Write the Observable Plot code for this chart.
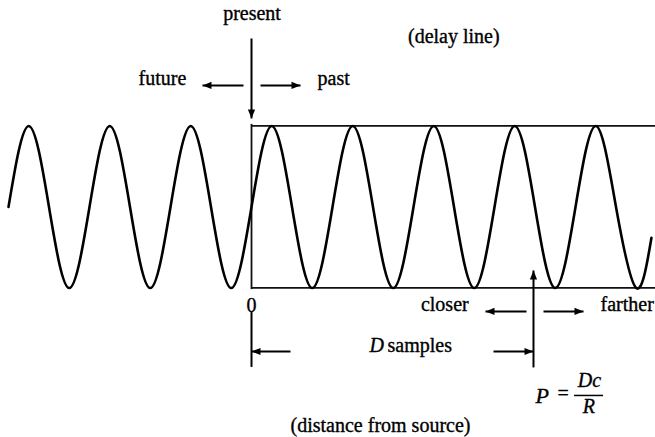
<!DOCTYPE html>
<html>
<head>
<meta charset="utf-8">
<script src="https://cdn.jsdelivr.net/npm/d3@7"></script>
<script src="https://cdn.jsdelivr.net/npm/@observablehq/plot@0.6"></script>
<style>
  html, body { margin: 0; padding: 0; background: #fff; }
  #chart svg { display: block; }
</style>
</head>
<body>
<div id="chart"></div>
<script>
// ---- Wave: x in samples (0 = present), y = amplitude ----
const waveX = [-24, -22, -20, -18, -16, -14, -12, -10, -8, -6, -4, -2,
               0, 2, 4, 6, 8, 10, 12, 14, 16, 18, 20, 22, 24, 26, 28, 30, 32, 34, 36, 38, 39.5];
const waveY = [0, 1, 0, -1, 0, 1, 0, -1, 0, 1, 0, -1,
               0, 1, 0, -1, 0, 1, 0, -1, 0, 1, 0, -1, 0, 1, 0, -1, 0, 1, 0, -1, -0.38];

// delay line extent and listening position
const delayStart = 0;
const delayEnd = 40;
const D = 27.85;

// ---- Text labels (data-unit anchors) ----
const labelText  = ["present", "future", "past", "(delay line)", "0", "closer", "farther",
                    "samples", "(distance from source)", "="];
const labelX     = [0.05, -8.8, 6.52, 19.98, 0, 21.45, 34.47, 13.43, 12.74, 30.77];
const labelY     = [2.388, 1.579, 1.579, 2.098, -1.223, -1.211, -1.211, -1.717, -2.693, -2.298];
const labelAlign = ["middle", "middle", "start", "middle", "middle", "end", "start", "start", "middle", "middle"];

const italicText  = ["D", "P", "Dc", "R"];
const italicX     = [11.66, 28.05, 33.38, 33.33];
const italicY     = [-1.717, -2.335, -2.149, -2.470];
const italicAlign = ["start", "start", "middle", "middle"];
const italicSize  = [20, 22, 20, 20];

// ---- Arrows: from (x1,y1) to head at (x2,y2) ----
const arrowX1 = [0, -0.79, 0.89, 27.16, 28.84, 3.85, 23.90, D];
const arrowY1 = [2.080, 1.5, 1.5, -1.290, -1.290, -1.784, -1.784, -1.981];
const arrowX2 = [0, -4.84, 4.84, 23.11, 32.79, 0, D, D];
const arrowY2 = [1.093, 1.5, 1.5, -1.290, -1.290, -1.784, -1.784, -0.784];

// fraction bar of P = Dc / R
const barX1 = 31.90, barX2 = 34.77, barY = -2.327;

const labels = labelText.map((t, i) => ({t, x: labelX[i], y: labelY[i], a: labelAlign[i], s: 20}));
const italics = italicText.map((t, i) => ({t, x: italicX[i], y: italicY[i], a: italicAlign[i], s: italicSize[i]}));
const arrows = arrowX1.map((x1, i) => {
  const x2 = arrowX2[i], y1 = arrowY1[i], y2 = arrowY2[i];
  const rot = x2 > x1 ? 90 : x2 < x1 ? 270 : (y2 > y1 ? 0 : 180);
  return {x1, y1, x2, y2, rot};
});
const wave = waveX.map((x, i) => ({x, y: waveY[i]}));

// filled arrowhead symbol, tip at origin pointing up
const arrowHead = {
  draw(ctx) {
    ctx.moveTo(0, 0);
    ctx.lineTo(3.6, 9);
    ctx.lineTo(-3.6, 9);
    ctx.closePath();
  }
};

const font = "Liberation Serif";

function textMarks(rows, extra) {
  const out = [];
  for (const a of ["start", "middle", "end"]) {
    for (const s of [20, 22]) {
      const sub = rows.filter(d => d.a === a && d.s === s);
      if (!sub.length) continue;
      out.push(Plot.text(sub, {
        x: "x", y: "y", text: "t", textAnchor: a, fontSize: s, fill: "#000",
        stroke: "#000", strokeWidth: 0.35, fontFamily: font, ...extra
      }));
    }
  }
  return out;
}

const chart = Plot.plot({
  width: 655,
  height: 437,
  margin: 0,
  style: {fontFamily: font, fontSize: "20px", background: "#fff", color: "#000"},
  x: {domain: [-24.79, 39.90], axis: null},
  y: {domain: [-2.846, 2.549], axis: null},
  marks: [
    // delay line box
    Plot.ruleY([1, -1], {x1: delayStart, x2: delayEnd, stroke: "#111", strokeWidth: 1.8}),
    Plot.ruleX([delayStart], {y1: -1.02, y2: 1.02, stroke: "#111", strokeWidth: 1.8}),
    // source-distance zero tick
    Plot.ruleX([delayStart], {y1: -1.302, y2: -1.981, stroke: "#000", strokeWidth: 2}),
    // the wave
    Plot.line(wave, {x: "x", y: "y", curve: "natural", stroke: "#000", strokeWidth: 2.6}),
    // arrows
    Plot.link(arrows, {x1: "x1", y1: "y1", x2: "x2", y2: "y2", stroke: "#000", strokeWidth: 2}),
    Plot.dot(arrows, {x: "x2", y: "y2", rotate: "rot", symbol: arrowHead, fill: "#000", stroke: "none", r: 3}),
    // fraction bar
    Plot.ruleY([barY], {x1: barX1, x2: barX2, stroke: "#000", strokeWidth: 1.5}),
    // texts
    ...textMarks(labels, {}),
    ...textMarks(italics, {fontStyle: "italic"})
  ]
});
document.getElementById("chart").appendChild(chart);
</script>
</body>
</html>
